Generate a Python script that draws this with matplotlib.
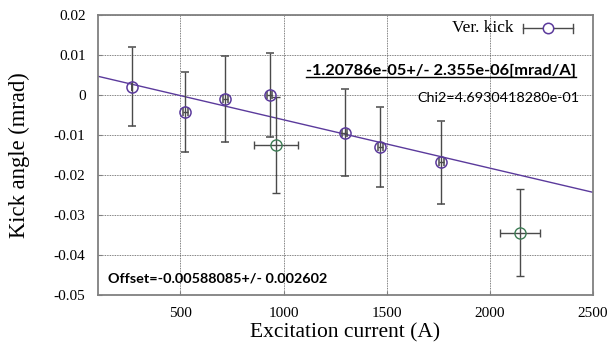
import numpy as np
import matplotlib
matplotlib.use("Agg")
import matplotlib.pyplot as plt
from matplotlib.lines import Line2D

# --- data ---
current = [264, 524, 717, 932, 1296, 1469, 1765]
kick = [0.0021, -0.0042, -0.0010, 0.0000, -0.0094, -0.0129, -0.0168]
kick_err = [0.0099, 0.0100, 0.0108, 0.0104, 0.0108, 0.0100, 0.0104]
current_err = [0, 12, 12, 12, 12, 12, 12]

# excluded points (green)
out_current = [964, 2147]
out_kick = [-0.0126, -0.0344]
out_kick_err = [0.0120, 0.0109]
out_current_err = [107, 95]

slope = -1.20786e-05
intercept = 0.00588085
fit_text = "-1.20786e-05+/- 2.355e-06[mrad/A]"
chi_text = "Chi2=4.6930418280e-01"
offset_text = "Offset=-0.00588085+/- 0.002602"
legend_label = "Ver. kick"

xticks = [500, 1000, 1500, 2000, 2500]
yticks = [0.02, 0.01, 0, -0.01, -0.02, -0.03, -0.04, -0.05]
ytick_labels = ["0.02", "0.01", "0", "-0.01", "-0.02", "-0.03", "-0.04", "-0.05"]

purple = "#5b3a9c"
green = "#3d7d55"
bar_col = "#4a4a4a"
serif = "Liberation Serif"
sans = "Lato"

fig = plt.figure(figsize=(6.10, 3.47), dpi=100)
ax = fig.add_axes([0.1607, 0.1499, 0.8109, 0.8069])

ax.set_xlim(100, 2500)
ax.set_ylim(-0.05, 0.02)
ax.set_xticks(xticks)
ax.set_yticks(yticks)
ax.set_yticklabels(ytick_labels)
ax.tick_params(direction="in", length=3, color="#808080", labelsize=11, pad=9)
for lab in ax.get_xticklabels() + ax.get_yticklabels():
    lab.set_fontfamily(serif)
ax.grid(True, color="#555555", linestyle=(0, (1, 1)), linewidth=0.6)
for sp in ax.spines.values():
    sp.set_color("#808080")
    sp.set_linewidth(1.3)

# fit line
xs = np.array([100, 2500])
ax.plot(xs, intercept + slope * xs, color=purple, lw=1.0, zorder=2)

ax.errorbar(current, kick, yerr=kick_err, xerr=current_err, fmt="o", ms=8,
            mfc="none", mec=purple, mew=1.1, ecolor=bar_col, elinewidth=1.0,
            capsize=3, capthick=1.0, zorder=3)
ax.errorbar(out_current, out_kick, yerr=out_kick_err, xerr=out_current_err,
            fmt="o", ms=8, mfc="none", mec=green, mew=1.0, ecolor=bar_col,
            elinewidth=1.0, capsize=3, capthick=1.0, zorder=3)

ax.set_xlabel("Excitation current (A)", fontfamily=serif, fontsize=15.5, labelpad=2)
ax.set_ylabel("Kick angle (mrad)", fontfamily=serif, fontsize=16.3, labelpad=17)

# legend, drawn by hand: label then errorbar sample
ax.text(0.839, 0.952, legend_label, transform=ax.transAxes, ha="right",
        va="center", fontfamily=serif, fontsize=12.5)
ax.plot([0.859, 0.960], [0.952, 0.952], transform=ax.transAxes,
        color=bar_col, lw=1.0, clip_on=False)
for cx in (0.859, 0.960):
    ax.plot([cx, cx], [0.937, 0.967], transform=ax.transAxes,
            color=bar_col, lw=1.0, clip_on=False)
ax.plot([0.910], [0.952], transform=ax.transAxes, marker="o", ms=7.5,
        mfc="white", mec=purple, mew=1.1, clip_on=False)

t1 = ax.text(0.966, 0.80, fit_text, transform=ax.transAxes, ha="right",
             va="center", fontfamily=sans, fontweight="bold", fontsize=10)
t2 = ax.text(0.974, 0.705, chi_text, transform=ax.transAxes, ha="right",
             va="center", fontfamily=sans, fontsize=10)
t3 = ax.text(0.02, 0.06, offset_text, transform=ax.transAxes, ha="left",
             va="center", fontfamily=sans, fontweight="bold", fontsize=10)

# scale the annotation texts to the widths seen in the reference (px)
fig.canvas.draw()
for t, w in ((t1, 270), (t2, 162), (t3, 219)):
    cur = t.get_window_extent().width
    t.set_fontsize(10 * w / cur)

# underline the fit text
fig.canvas.draw()
bb = t1.get_window_extent().transformed(fig.transFigure.inverted())
fig.add_artist(Line2D([bb.x0, bb.x1], [bb.y0 + 0.004, bb.y0 + 0.004],
                      transform=fig.transFigure, color="black", lw=1.0))

fig.savefig("out.png", dpi=100)
